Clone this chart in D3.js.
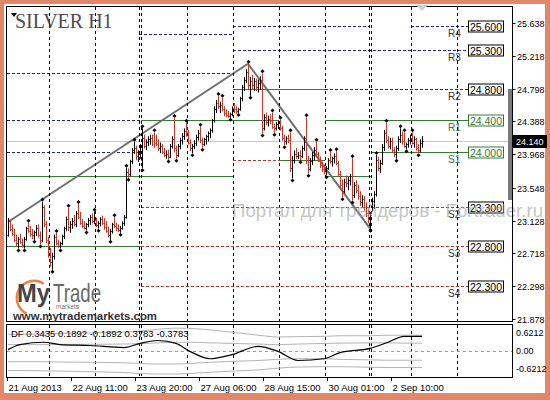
<!DOCTYPE html>
<html lang="ru">
<head>
<meta charset="UTF-8">
<title>SILVER H1</title>
<style>
  body { margin: 0; background: #fff; }
  svg { display: block; font-family: "Liberation Sans", Arial, sans-serif; }
</style>
</head>
<body>
<svg id="chart" width="550" height="400"></svg>
<script src="https://d3js.org/d3.v7.min.js"></script>
<script>
// H1 bars, [open, high, low, close]
const bars = [
  [22.95,23.16,22.93,23.12],[23.12,23.14,23.00,23.02],[23.02,23.08,22.94,22.96],[22.96,23.02,22.86,22.88],
  [22.88,22.95,22.80,22.84],[22.84,22.92,22.78,22.90],[22.90,22.96,22.84,22.86],[22.86,22.90,22.79,22.82],
  [22.82,22.92,22.78,22.90],[22.90,23.05,22.88,23.03],[23.03,23.10,22.98,23.00],[23.00,23.06,22.93,22.96],
  [22.96,23.02,22.90,22.94],[22.94,23.00,22.89,22.98],[22.98,23.07,22.94,23.04],[23.04,23.08,22.92,22.95],
  [22.95,22.99,22.83,22.86],[22.88,23.37,22.86,23.30],[23.30,23.32,23.05,23.08],[23.08,23.12,22.85,22.88],
  [22.88,22.92,22.66,22.70],[22.70,22.78,22.55,22.60],[22.60,22.72,22.51,22.68],[22.68,22.95,22.64,22.92],
  [22.92,22.97,22.82,22.84],[22.84,22.88,22.79,22.81],[22.81,22.86,22.78,22.84],[22.84,22.95,22.82,22.93],
  [22.93,23.05,22.90,23.03],[23.03,23.18,23.00,23.15],[23.15,23.29,23.00,23.05],[23.05,23.12,22.98,23.08],
  [23.08,23.16,23.03,23.12],[23.12,23.20,23.06,23.09],[23.09,23.25,23.05,23.22],[23.22,23.34,23.15,23.18],
  [23.18,23.24,23.08,23.10],[23.10,23.15,23.04,23.06],[23.06,23.12,23.02,23.04],[23.04,23.10,23.01,23.08],
  [23.08,23.16,23.05,23.13],[23.13,23.20,23.08,23.17],[23.17,23.22,23.10,23.12],[23.12,23.24,23.09,23.13],
  [23.13,23.16,23.05,23.07],[23.07,23.12,23.03,23.10],[23.10,23.17,23.06,23.15],[23.15,23.19,23.08,23.10],
  [23.10,23.16,23.02,23.05],[23.05,23.12,22.98,23.00],[23.00,23.05,22.92,22.95],[22.95,23.02,22.89,23.00],
  [23.00,23.10,22.97,23.08],[23.08,23.17,23.04,23.06],[23.06,23.10,23.00,23.03],[23.03,23.08,22.99,23.01],
  [23.01,23.06,22.98,23.04],[23.04,23.12,23.02,23.10],[23.10,23.20,23.07,23.18],[23.18,23.80,23.16,23.74],
  [23.74,23.79,23.68,23.72],[23.72,23.90,23.70,23.88],[23.88,24.05,23.85,24.02],[24.02,24.13,23.98,24.05],
  [24.05,24.08,23.90,23.95],[23.95,24.02,23.88,23.98],[23.98,24.10,23.92,24.06],[23.90,24.30,23.80,24.18],
  [24.18,24.22,24.05,24.08],[24.08,24.16,24.03,24.13],[24.13,24.20,24.08,24.16],[24.16,24.22,24.10,24.18],
  [24.18,24.22,24.08,24.10],[24.22,24.25,24.06,24.12],[24.12,24.22,24.08,24.10],[24.10,24.16,24.02,24.05],
  [24.05,24.12,23.99,24.08],[24.08,24.10,23.98,24.00],[24.00,24.05,23.94,23.96],[23.96,24.02,23.92,23.98],
  [23.98,24.03,23.91,23.94],[23.94,24.10,23.93,24.08],[24.08,24.20,24.05,24.17],[24.17,24.43,24.00,24.05],
  [24.05,24.08,23.92,23.96],[23.96,24.10,23.94,24.08],[24.08,24.18,24.04,24.15],[24.15,24.24,24.10,24.20],
  [24.20,24.30,24.16,24.27],[24.27,24.37,24.20,24.25],[24.25,24.28,24.10,24.12],[24.12,24.16,24.02,24.05],
  [24.05,24.10,23.99,24.07],[24.07,24.15,24.04,24.12],[24.12,24.22,24.08,24.19],[24.19,24.28,24.15,24.24],
  [24.24,24.32,24.12,24.15],[24.15,24.18,24.06,24.10],[24.10,24.18,24.08,24.16],[24.16,24.22,24.10,24.20],
  [24.20,24.26,24.14,24.24],[24.24,24.30,24.18,24.28],[24.28,24.42,24.25,24.40],[24.40,24.58,24.38,24.55],
  [24.55,24.66,24.50,24.62],[24.62,24.71,24.55,24.58],[24.58,24.64,24.50,24.60],[24.60,24.69,24.52,24.55],
  [24.55,24.58,24.46,24.49],[24.49,24.54,24.45,24.47],[24.47,24.52,24.44,24.46],[24.46,24.50,24.44,24.48],
  [24.48,24.58,24.46,24.56],[24.56,24.62,24.50,24.54],[24.54,24.58,24.49,24.52],[24.52,24.56,24.50,24.55],
  [24.55,24.70,24.53,24.68],[24.68,24.85,24.65,24.82],[24.82,24.95,24.78,24.92],[24.92,25.05,24.88,25.02],
  [25.02,25.12,24.80,24.85],[24.85,24.95,24.72,24.90],[24.90,24.98,24.80,24.85],[24.85,24.94,24.78,24.90],
  [24.90,24.93,24.78,24.82],[24.82,24.92,24.76,24.88],[24.88,24.96,24.80,24.92],[24.92,25.00,24.24,24.30],
  [24.30,24.48,24.28,24.45],[24.45,24.50,24.35,24.38],[24.38,24.46,24.33,24.42],[24.42,24.48,24.36,24.40],
  [24.40,24.50,24.30,24.32],[24.32,24.36,24.25,24.30],[24.30,24.38,24.28,24.35],[24.35,24.40,24.30,24.38],
  [24.38,24.41,24.28,24.30],[24.30,24.33,24.15,24.18],[24.18,24.22,24.09,24.14],[24.14,24.20,24.10,24.18],
  [24.18,24.22,24.12,24.15],[24.15,24.25,23.75,23.80],[23.80,23.95,23.67,23.90],[23.90,24.02,23.86,23.98],
  [23.98,24.05,23.92,23.95],[23.95,24.00,23.92,23.96],[23.96,24.02,23.90,23.95],[23.95,24.08,23.93,24.05],
  [24.05,24.20,24.02,24.18],[24.18,24.44,23.85,23.90],[23.90,23.95,23.73,23.78],[23.78,23.92,23.76,23.88],
  [23.88,24.00,23.84,23.96],[23.96,24.06,23.90,24.02],[24.02,24.13,23.95,23.98],[23.98,24.00,23.88,23.90],
  [23.90,23.94,23.80,23.83],[23.83,23.88,23.75,23.78],[23.78,23.84,23.72,23.76],[23.76,23.82,23.71,23.80],
  [23.80,23.92,23.78,23.90],[23.90,24.00,23.86,23.88],[23.88,23.94,23.82,23.92],[23.92,23.98,23.86,23.95],
  [23.95,24.01,23.84,23.86],[23.86,23.88,23.70,23.72],[23.72,23.76,23.55,23.58],[23.58,23.65,23.43,23.50],
  [23.50,23.66,23.48,23.62],[23.62,23.70,23.56,23.60],[23.60,23.68,23.52,23.65],[23.65,23.72,23.58,23.70],
  [23.70,23.92,23.39,23.45],[23.45,23.62,23.42,23.58],[23.58,23.64,23.48,23.52],[23.52,23.58,23.40,23.44],
  [23.44,23.50,23.32,23.36],[23.36,23.45,23.30,23.40],[23.40,23.44,23.26,23.30],[23.30,23.36,23.18,23.22],
  [23.22,23.28,23.10,23.15],[23.15,23.24,23.03,23.20],[23.30,23.42,23.25,23.38],[23.38,23.50,23.28,23.46],
  [23.46,23.96,23.44,23.90],[23.90,23.94,23.76,23.80],[23.80,23.90,23.74,23.86],[23.86,24.10,23.84,24.06],
  [24.06,24.28,24.02,24.24],[24.24,24.37,24.12,24.15],[24.15,24.20,24.05,24.08],[24.08,24.18,24.04,24.14],
  [24.14,24.18,24.00,24.02],[24.02,24.06,23.94,23.98],[23.98,24.08,23.92,24.05],[24.05,24.20,24.02,24.16],
  [24.16,24.30,24.12,24.22],[24.22,24.26,24.10,24.14],[24.14,24.25,24.06,24.08],[24.08,24.12,24.04,24.10],
  [24.10,24.18,24.06,24.15],[24.15,24.22,24.10,24.18],[24.18,24.25,24.10,24.12],[24.12,24.20,24.06,24.16],
  [24.16,24.18,24.02,24.05],[24.05,24.10,23.99,24.02],[24.02,24.16,24.00,24.12],[24.12,24.20,24.06,24.14]
];
const upFractals = [10,17,24,30,35,43,53,59,63,67,73,83,89,96,105,107,120,127,132,136,141,149,154,161,164,172,184,189,196,198,202];
const downFractals = [5,8,13,16,22,26,39,45,51,56,60,67,80,84,92,97,111,115,121,127,133,138,142,146,150,159,167,172,181,194,199,205];

const priceTicks = [25.638, 25.218, 24.798, 24.388, 23.968, 23.548, 23.128, 22.718, 22.298, 21.878];
const lastPrice = 24.140;
const timeLabels = ["21 Aug 2013", "22 Aug 11:00", "23 Aug 20:00", "27 Aug 06:00", "28 Aug 15:00", "30 Aug 01:00", "2 Sep 10:00"];
const timeLabelBars = [0, 32, 64, 96, 128, 160, 192];
const daySeparators = [21, 44, 66, 67, 90, 113, 136, 159, 181, 182, 202, 225];
const trendLines = [[0, 23.11, 120, 25.12], [120, 25.12, 181, 23.03]];

// analyst levels: [kind, fromBar, toBar, price]
const levelSegments = [
  ["r", 0, 112, 25.00], ["r", 66, 112, 25.50], ["r", 0, 66, 24.40], ["r", 0, 66, 24.00],
  ["g", 0, 112, 23.70], ["g", 0, 66, 22.80],
  ["g", 67, 112, 24.40], ["s", 67, 230, 23.30], ["s", 67, 230, 22.80], ["s", 67, 230, 22.30],
  ["r", 113, 180, 25.60], ["r", 202, 230, 25.60], ["r", 113, 230, 25.30],
  ["g", 113, 158, 24.80], ["g", 113, 135, 24.40], ["s", 113, 135, 23.90], ["g", 136, 158, 23.90],
  ["r", 159, 230, 24.80], ["g", 159, 181, 24.40], ["g", 159, 181, 23.70],
  ["g", 182, 230, 24.40], ["g", 182, 230, 24.00]
];
const pivotNames = ["R4", "R3", "R2", "R1", "S1", "S2", "S3", "S4"];
const pivotPrices = [25.600, 25.300, 24.800, 24.400, 24.000, 23.300, 22.800, 22.300];

// DF oscillator, read at sample bars
const dfBars = [0, 6, 18, 26, 41, 58, 66, 75, 84, 91, 101, 112, 125, 135, 145, 158, 166, 181, 190, 198, 207];
const dfMain = [0.03, 0.2, 0.28, 0.2, 0.17, 0.1, 0.24, 0.34, 0.24, -0.03, -0.28, -0.14, 0.14, -0.03, -0.34, -0.28, -0.07, 0.07, 0.28, 0.48, 0.48];
const dfUpper2 = [0.55, 0.55, 0.56, 0.58, 0.6, 0.62, 0.66, 0.72, 0.76, 0.75, 0.7, 0.62, 0.52, 0.46, 0.47, 0.48, 0.5, 0.5, 0.52, 0.52, 0.52];
const dfUpper1 = [0.2, 0.2, 0.2, 0.21, 0.21, 0.22, 0.23, 0.26, 0.28, 0.28, 0.26, 0.24, 0.22, 0.2, 0.22, 0.24, 0.25, 0.26, 0.26, 0.25, 0.25];
const dfLower1 = [-0.38, -0.38, -0.38, -0.39, -0.4, -0.42, -0.44, -0.46, -0.46, -0.44, -0.4, -0.37, -0.34, -0.3, -0.28, -0.28, -0.3, -0.32, -0.33, -0.33, -0.33];
const dfLower2 = [-0.68, -0.68, -0.69, -0.7, -0.72, -0.75, -0.78, -0.8, -0.8, -0.78, -0.74, -0.7, -0.66, -0.6, -0.56, -0.55, -0.55, -0.57, -0.58, -0.58, -0.58];
const dfTicks = [0.6212, 0.00, -0.6212];

const W = 550, H = 400;
const plotL = 7, plotR = 512, plotT = 7, plotB = 321, panT = 325, panB = 377;
const upCol = "#000000", downCol = "#c0392b", navy = "#22227a", green = "#357a35", brown = "#b03a30";

const svg = d3.select("#chart");
const x = d3.scaleLinear().domain([0, 252]).range([8, 512]);
const y = d3.scaleLinear().domain([21.878, 25.638]).range([319, 23]);
const yDf = d3.scaleLinear().domain([-0.9, 0.9]).range([panB, panT - 1]);
const px = v => Math.round(v) + 0.5;

// frame
svg.append("rect").attr("width", W).attr("height", H).attr("fill", "#e3876a");
svg.append("rect").attr("x", 4).attr("y", 4).attr("width", 541).attr("height", 389).attr("fill", "#fff");

const defs = svg.append("defs");
defs.append("clipPath").attr("id", "main")
  .append("rect").attr("x", plotL).attr("y", plotT).attr("width", plotR - plotL).attr("height", plotB - plotT);
defs.append("clipPath").attr("id", "pan")
  .append("rect").attr("x", plotL).attr("y", panT).attr("width", plotR - plotL).attr("height", panB - panT);

const g = svg.append("g").attr("clip-path", "url(#main)");

// day separators (grid)
const sepX = daySeparators.map(i => px(x(i) - 1));
[[plotT, plotB], [panT, panB]].forEach(([a, b]) => {
  svg.append("g").selectAll("line").data(sepX).join("line")
    .attr("x1", d => d).attr("x2", d => d).attr("y1", a).attr("y2", b)
    .attr("stroke", "#000").attr("stroke-dasharray", "3,3");
});

// analyst level segments
g.selectAll(".lvl").data(levelSegments).join("line")
  .attr("x1", d => x(d[1]) - 1).attr("x2", d => d[2] >= 230 ? 468 : x(d[2]) + 1)
  .attr("y1", d => px(y(d[3]))).attr("y2", d => px(y(d[3])))
  .attr("stroke", d => d[0] === "r" ? navy : d[0] === "g" ? green : brown)
  .attr("stroke-dasharray", d => d[0] === "g" ? null : "3,2");

// last price line
g.append("line").attr("x1", plotL).attr("x2", plotR)
  .attr("y1", px(y(lastPrice))).attr("y2", px(y(lastPrice))).attr("stroke", "#c8c8c8");

// trend lines
g.selectAll(".tl").data(trendLines).join("line")
  .attr("x1", d => x(d[0])).attr("y1", d => y(d[1])).attr("x2", d => x(d[2])).attr("y2", d => y(d[3]))
  .attr("stroke", "#6e6e6e").attr("stroke-width", 2);

// bars
const bg = g.append("g");
bars.forEach((b, i) => {
  const cx = px(x(i));
  const col = b[3] >= b[0] ? upCol : downCol;
  bg.append("line").attr("x1", cx).attr("x2", cx).attr("y1", y(b[1])).attr("y2", y(b[2]) + 0.5).attr("stroke", col);
  bg.append("line").attr("x1", cx - 1).attr("x2", cx).attr("y1", px(y(b[0]))).attr("y2", px(y(b[0]))).attr("stroke", col);
  bg.append("line").attr("x1", cx).attr("x2", cx + 1).attr("y1", px(y(b[3]))).attr("y2", px(y(b[3]))).attr("stroke", col);
});

// fractals
const mark = (cx, cy) => `M${cx},${cy - 2}L${cx + 2},${cy}L${cx},${cy + 2}L${cx - 2},${cy}Z`;
g.selectAll(".fu").data(upFractals).join("path")
  .attr("d", i => mark(px(x(i)), y(bars[i][1]) - 2)).attr("fill", "#000");
g.selectAll(".fd").data(downFractals).join("path")
  .attr("d", i => mark(px(x(i)), y(bars[i][2]) + 2.5)).attr("fill", "#000");

// pivot labels on the right
pivotNames.forEach((n, k) => {
  const p = pivotPrices[k], yy = px(y(p));
  const col = (n === "R1" || n === "S1") ? green : "#000";
  svg.append("text").attr("x", 448).attr("y", yy + 10).attr("font-size", 10)
    .attr("fill", (n === "R1" || n === "S1") ? green : "#333").text(n);
  svg.append("rect").attr("x", 468.5).attr("y", yy - 5.5).attr("width", 35).attr("height", 11)
    .attr("fill", "#fff").attr("stroke", col);
  svg.append("text").attr("x", 486).attr("y", yy + 4).attr("font-size", 10.5)
    .attr("text-anchor", "middle").attr("fill", col).text(p.toFixed(3));
});

// right gray range bar
svg.append("rect").attr("x", 508).attr("y", y(24.80)).attr("width", 4).attr("height", y(23.39) - y(24.80)).attr("fill", "#7a7a7a");

// watermark, over the chart like the reference
svg.append("text").attr("x", 232).attr("y", 217).attr("font-size", 19)
  .attr("textLength", 311).attr("lengthAdjust", "spacingAndGlyphs")
  .attr("fill", "#a0a0a0").attr("opacity", 0.6)
  .text("Портал для трейдеров - Fortrader.ru");

// chart borders
svg.append("rect").attr("x", plotL - 0.5).attr("y", plotT - 0.5).attr("width", plotR - plotL + 1).attr("height", plotB - plotT + 1)
  .attr("fill", "none").attr("stroke", "#000");
svg.append("rect").attr("x", plotL - 0.5).attr("y", panT - 0.5).attr("width", plotR - plotL + 1).attr("height", panB - panT + 1)
  .attr("fill", "none").attr("stroke", "#000");

// price axis
svg.selectAll(".pt").data(priceTicks).join("g").each(function(v) {
  const yy = px(y(v));
  d3.select(this).append("line").attr("x1", plotR + 0.5).attr("x2", plotR + 3.5).attr("y1", yy).attr("y2", yy).attr("stroke", "#000");
  d3.select(this).append("text").attr("x", 517).attr("y", yy + 3.5).attr("font-size", 9).attr("fill", "#000").text(v.toFixed(3));
});
svg.append("rect").attr("x", 513).attr("y", px(y(lastPrice)) - 6.5).attr("width", 34).attr("height", 13).attr("fill", "#000");
svg.append("text").attr("x", 516).attr("y", px(y(lastPrice)) + 3.5).attr("font-size", 9).attr("fill", "#fff").text(lastPrice.toFixed(3));

// DF panel
const pg = svg.append("g").attr("clip-path", "url(#pan)");
pg.append("line").attr("x1", plotL).attr("x2", plotR).attr("y1", px(yDf(0))).attr("y2", px(yDf(0)))
  .attr("stroke", "#a0a0a0").attr("stroke-dasharray", "3,3");
const dfLine = d3.line().x((d, k) => x(dfBars[k])).y(d => yDf(d)).curve(d3.curveMonotoneX);
[dfUpper2, dfUpper1, dfLower1, dfLower2].forEach(s => {
  pg.append("path").attr("d", dfLine(s)).attr("fill", "none").attr("stroke", "#b4b4b4");
});
pg.append("path").attr("d", dfLine(dfMain)).attr("fill", "none").attr("stroke", "#000").attr("stroke-width", 1.2);
svg.append("text").attr("x", 11).attr("y", 337).attr("font-size", 9.5).attr("fill", "#000")
  .text("DF 0.3435 0.1892 -0.1892 0.3783 -0.3783");
dfTicks.forEach(v => {
  svg.append("text").attr("x", 516).attr("y", yDf(v) + 3.5).attr("font-size", 9).attr("fill", "#000")
    .text(v === 0 ? "0.00" : v.toFixed(4));
});

// time axis
timeLabels.forEach((t, k) => {
  const tx = px(x(timeLabelBars[k]) - 1);
  svg.append("line").attr("x1", tx).attr("x2", tx).attr("y1", panB).attr("y2", panB + 4).attr("stroke", "#000");
  svg.append("text").attr("x", tx + 1).attr("y", 391).attr("font-size", 9.5).attr("fill", "#000").text(t);
});

// title
svg.append("path").attr("d", "M11,13L17,13L14,17Z").attr("fill", "#000");
svg.append("text").attr("x", 15).attr("y", 28).attr("font-family", "Liberation Serif, serif")
  .attr("font-size", 20).attr("fill", "#4d4d4d").text("SILVER H1");
svg.append("path").attr("d", "M416,5L428,5L422,11Z").attr("fill", "#d0d0d0");

// logo
const logo = svg.append("g");
logo.append("path").attr("d", d3.arc()({innerRadius: 16, outerRadius: 18.5, startAngle: -2.7, endAngle: 0.6}))
  .attr("transform", "translate(34,298)").attr("fill", "#e8834a");
logo.append("text").attr("x", 17).attr("y", 302).attr("font-size", 26).attr("font-weight", "bold")
  .attr("textLength", 33).attr("lengthAdjust", "spacingAndGlyphs").attr("fill", "#454545").text("My");
logo.append("text").attr("x", 53).attr("y", 302).attr("font-size", 26)
  .attr("textLength", 48).attr("lengthAdjust", "spacingAndGlyphs").attr("fill", "#6a6a6a").text("Trade");
logo.append("text").attr("x", 56).attr("y", 309).attr("font-size", 6.5).attr("fill", "#777").text("markets");
logo.append("text").attr("x", 13).attr("y", 320).attr("font-size", 11.5).attr("font-weight", "bold")
  .attr("textLength", 144).attr("lengthAdjust", "spacingAndGlyphs").attr("fill", "#333").text("www.mytrademarkets.com");
</script>
</body>
</html>
